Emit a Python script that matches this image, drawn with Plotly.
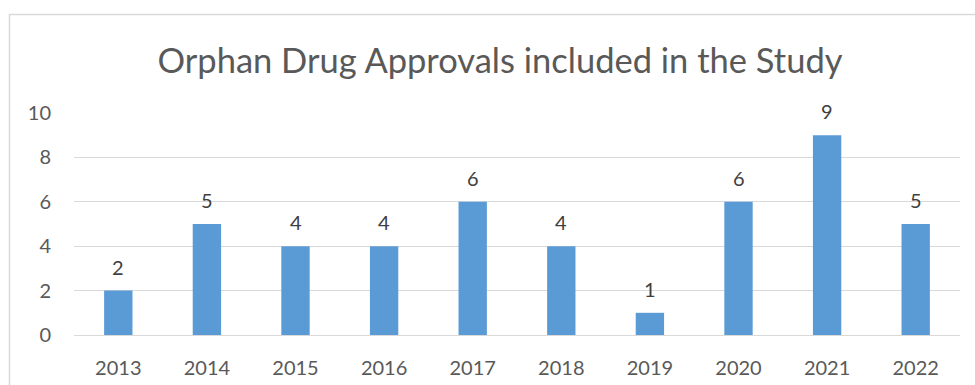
import plotly.graph_objects as go

years = ["2013", "2014", "2015", "2016", "2017", "2018", "2019", "2020", "2021", "2022"]
approvals = [2, 5, 4, 4, 6, 4, 1, 6, 9, 5]
y_ticks = [0, 2, 4, 6, 8, 10]

FONT = "Lato, 'Open Sans', sans-serif"
BAR = "#5B9BD5"
GRID = "#D9D9D9"

fig = go.Figure(
    go.Bar(
        x=years,
        y=approvals,
        marker=dict(color=BAR, line=dict(width=0)),
        width=0.32,
        hoverinfo="x+y",
    )
)

# value labels above each bar (category index as x position)
for i, v in enumerate(approvals):
    fig.add_annotation(
        x=i, y=v, text=str(v), showarrow=False,
        yanchor="middle", yshift=24,
        font=dict(family=FONT, size=20, color="#404040"),
    )

L, R, T, B = 74, 15, 113, 50
W, H = 975, 385
pw, ph = W - L - R, H - T - B

# light frame around the chart
fig.add_shape(
    type="rect", xref="paper", yref="paper",
    x0=(9.5 - L) / pw, x1=1.2, y0=-0.6, y1=1 + (T - 14.5) / ph,
    line=dict(color=GRID, width=1.5), fillcolor="rgba(0,0,0,0)", layer="below",
)

fig.update_layout(
    width=W, height=H,
    margin=dict(l=L, r=R, t=T, b=B, autoexpand=False),
    paper_bgcolor="white", plot_bgcolor="white",
    showlegend=False,
    title=dict(
        text="Orphan Drug Approvals included in the Study",
        x=(500 - L) / pw, xref="paper", xanchor="center",
        y=1 - 61 / H, yref="container", yanchor="middle",
        font=dict(family=FONT, size=34.5, color="#595959"),
    ),
    xaxis=dict(
        type="category", categoryorder="array", categoryarray=years,
        range=[-0.5, len(years) - 0.5], automargin=False,
        showgrid=False, zeroline=False,
        showline=True, linecolor=GRID, linewidth=1,
        ticks="", tickfont=dict(family=FONT, size=20, color="#595959"),
        ticklabelstandoff=15,
    ),
    yaxis=dict(
        range=[0, 10], tickvals=y_ticks, automargin=False,
        showgrid=True, gridcolor=GRID, gridwidth=1,
        zeroline=False, showline=False,
        ticks="", tickfont=dict(family=FONT, size=20, color="#595959"),
        ticklabelstandoff=22,
    ),
)

fig.write_html("out.html")
